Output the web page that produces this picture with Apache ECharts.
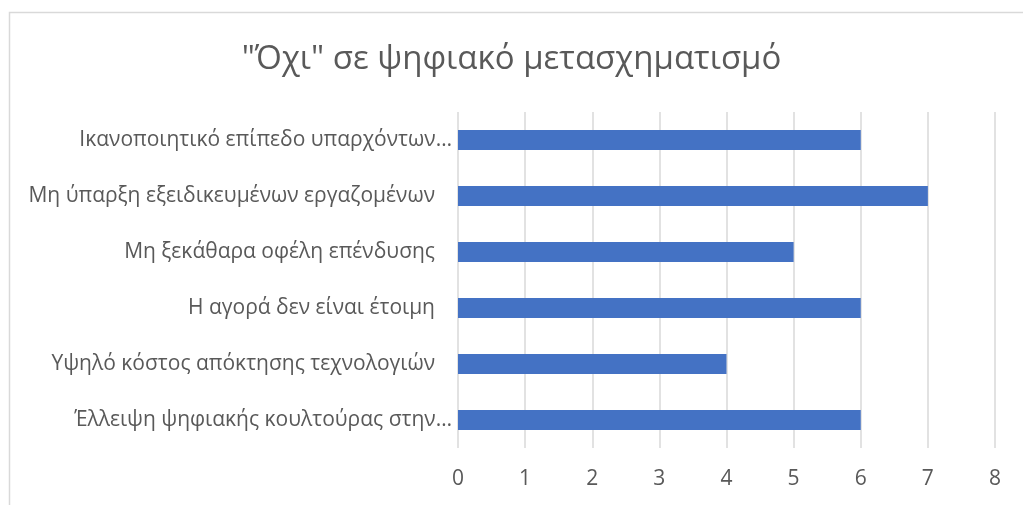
<!DOCTYPE html>
<html>
<head>
<meta charset="utf-8">
<script src="https://cdn.jsdelivr.net/npm/echarts@6/dist/echarts.min.js"></script>
<style>
  html, body { margin: 0; padding: 0; background: #ffffff; }
  #chart { width: 1023px; height: 505px; }
</style>
</head>
<body>
<div id="chart"></div>
<script>
// Reasons given for saying "no" to digital transformation (top to bottom)
const categories = [
  'Ικανοποιητικό επίπεδο υπαρχόντων…',
  'Μη ύπαρξη εξειδικευμένων εργαζομένων',
  'Μη ξεκάθαρα οφέλη επένδυσης',
  'Η αγορά δεν είναι έτοιμη',
  'Υψηλό κόστος απόκτησης τεχνολογιών',
  'Έλλειψη ψηφιακής κουλτούρας στην…'
];
const counts = [6, 7, 5, 6, 4, 6];
const xTicks = [0, 1, 2, 3, 4, 5, 6, 7, 8];

const textColor = '#595959';
const gridColor = '#d9d9d9';
const barColor = '#4472c4';
const fontFamily = '"Open Sans", "Noto Sans", sans-serif';

// Full labels end with a trailing space, truncated ones end with "…"
const yLabels = categories.map(function (c) {
  const truncated = c.charAt(c.length - 1) === '…';
  return {
    value: c,
    textStyle: { padding: [0, truncated ? 0 : 17, 0, 0] }
  };
});

const chart = echarts.init(document.getElementById('chart'), null, { renderer: 'canvas' });

chart.setOption({
  animation: false,
  backgroundColor: '#ffffff',
  title: {
    text: '"Όχι" σε ψηφιακό μετασχηματισμό',
    left: 'center',
    top: 43,
    padding: [0, 0, 0, 23],
    textStyle: {
      color: textColor,
      fontFamily: fontFamily,
      fontWeight: 'normal',
      fontSize: 33
    }
  },
  graphic: [{
    type: 'rect',
    silent: true,
    shape: { x: 9.5, y: 12.5, width: 1040, height: 520 },
    style: { fill: 'none', stroke: gridColor, lineWidth: 1.5 }
  }],
  grid: {
    left: 458,
    right: 28,
    top: 112,
    bottom: 57,
    containLabel: false
  },
  xAxis: {
    type: 'value',
    min: xTicks[0],
    max: xTicks[xTicks.length - 1],
    interval: 1,
    axisLine: { show: false },
    axisTick: { show: false },
    splitLine: { show: true, lineStyle: { color: gridColor, width: 1.5 } },
    axisLabel: {
      color: textColor,
      fontFamily: fontFamily,
      fontSize: 21,
      margin: 21
    }
  },
  yAxis: {
    type: 'category',
    inverse: true,
    data: yLabels,
    axisLine: { show: false },
    axisTick: { show: false },
    axisLabel: {
      color: textColor,
      fontFamily: fontFamily,
      fontSize: 21,
      margin: 6
    }
  },
  series: [{
    type: 'bar',
    data: counts,
    barWidth: 20,
    itemStyle: { color: barColor },
    silent: true
  }]
});
</script>
</body>
</html>
